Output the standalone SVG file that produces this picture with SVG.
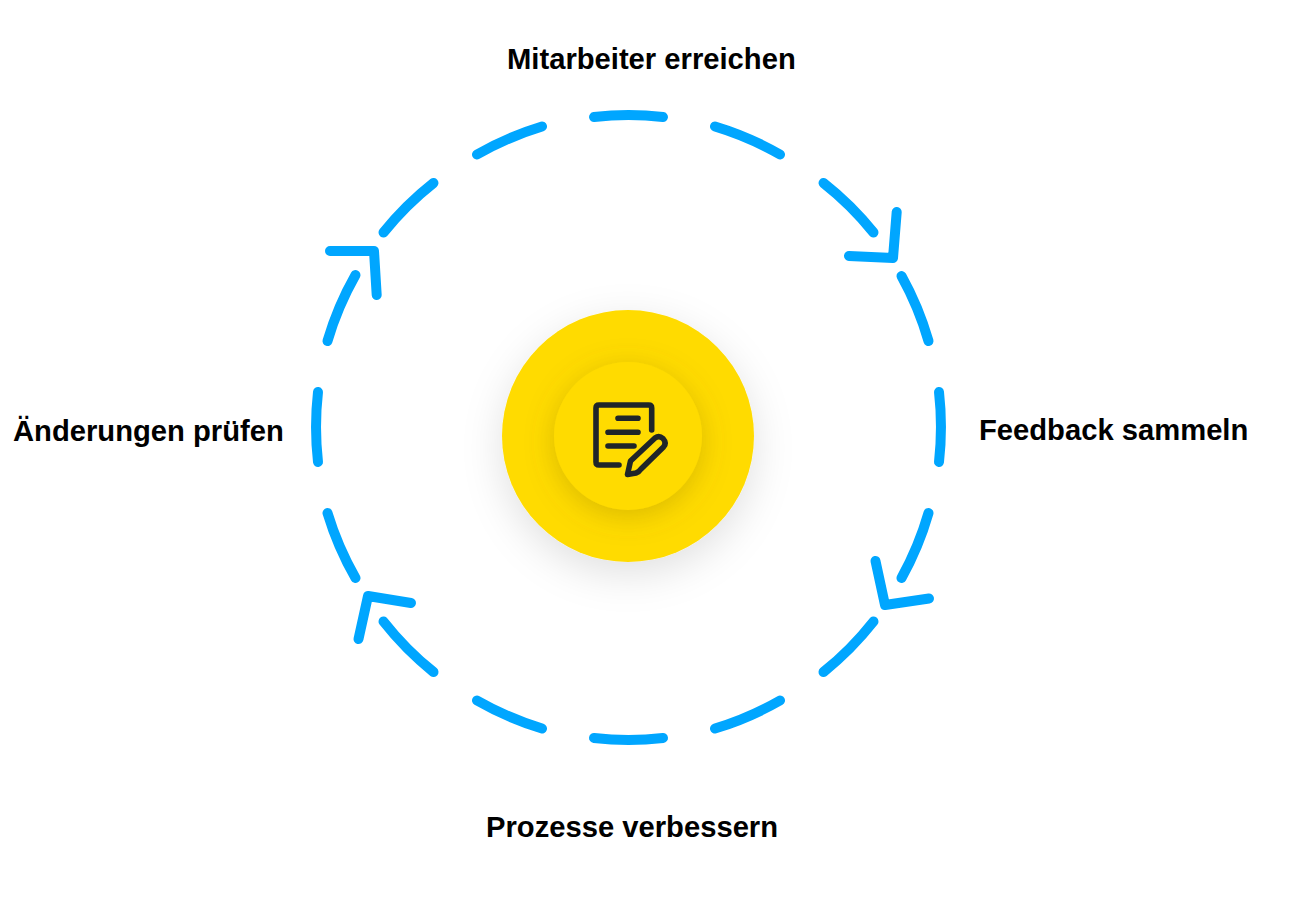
<svg xmlns="http://www.w3.org/2000/svg" width="1298" height="909" viewBox="0 0 1298 909">
<style>
.l{font-family:"Liberation Sans",Arial,sans-serif;font-weight:700;font-size:29.2px;fill:#000}
.c path{fill:none;stroke:#00a6ff;stroke-width:10;stroke-linecap:round;stroke-linejoin:round}
.i path{fill:none;stroke:#1f2529;stroke-width:5.600;stroke-linecap:round;stroke-linejoin:round}
</style>
<defs>
<filter id="s1" x="-40%" y="-40%" width="180%" height="190%"><feDropShadow dx="0" dy="12" stdDeviation="20" flood-color="#000" flood-opacity="0.12"/></filter>
<filter id="s2" x="-40%" y="-40%" width="180%" height="190%"><feDropShadow dx="0" dy="6" stdDeviation="14" flood-color="#7a6400" flood-opacity="0.28"/></filter>
</defs>
<rect width="1298" height="909" fill="#fff"/>
<g id="connectors" class="c">
<path d="M594 117A312 312 0 0 1 663 117"/>
<path d="M715 126.500A312 312 0 0 1 780 154.500"/>
<path d="M823.500 183A312 312 0 0 1 873.500 232.500"/>
<path d="M901.500 276A312 312 0 0 1 928.500 341"/>
<path d="M939 392A312 312 0 0 1 939 462"/>
<path d="M928.500 513A312 312 0 0 1 901.500 578"/>
<path d="M873.500 621.500A312 312 0 0 1 823.500 672"/>
<path d="M780 700.500A312 312 0 0 1 715 728.500"/>
<path d="M663 738A312 312 0 0 1 594 738"/>
<path d="M542 728.500A312 312 0 0 1 477 700.500"/>
<path d="M433.500 672A312 312 0 0 1 383.500 621.500"/>
<path d="M355.500 578A312 312 0 0 1 327.500 513"/>
<path d="M318 462A312 312 0 0 1 318 392"/>
<path d="M327.500 341A312 312 0 0 1 355.500 275"/>
<path d="M383.500 232.500A312 312 0 0 1 433.500 183"/>
<path d="M477 154.500A312 312 0 0 1 542 126.500"/>
<path d="M896.700 212L893 258L849 256"/>
<path d="M875.500 561L885 605L929 598.500"/>
<path d="M358.500 639L368 596L411 603"/>
<path d="M330 251L374 251L376.700 295"/>
</g>
<g id="center">
<circle cx="628" cy="436" r="126" fill="#ffdb00" filter="url(#s1)"/>
<circle cx="628" cy="436" r="74" fill="#ffdb00" filter="url(#s2)"/>
<g class="i">
<path d="M651.700 430V408Q651.700 405 648.700 405H599Q596 405 596 408V462Q596 465 599 465H619"/>
<path d="M618 418.300H638M608 432.300H638M608 446H634"/>
<path d="M627.500 474.500L630.500 461L655 438Q659 435 663 438.500Q667 443 663.500 447L641 469Q639 472 636 473Z"/>
</g>
</g>
<g id="n1"><text class="l" x="507" y="68.500">Mitarbeiter erreichen</text></g>
<g id="n2"><text class="l" x="979" y="440">Feedback sammeln</text></g>
<g id="n3"><text class="l" x="486" y="837">Prozesse verbessern</text></g>
<g id="n4"><text class="l" x="13" y="441">Änderungen prüfen</text></g>
</svg>
